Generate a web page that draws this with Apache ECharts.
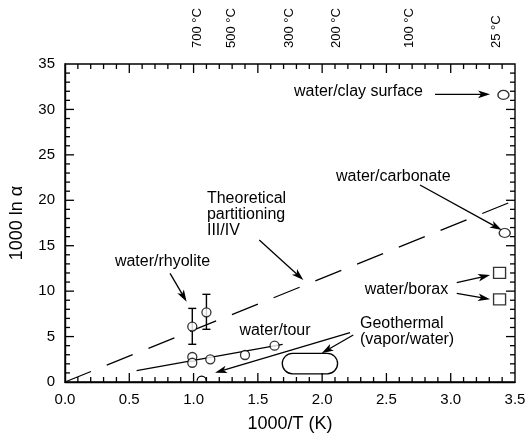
<!DOCTYPE html>
<html><head><meta charset="utf-8">
<script src="https://cdn.jsdelivr.net/npm/echarts@6/dist/echarts.min.js"></script>
<style>html,body{margin:0;padding:0;background:#fff}#c{width:529px;height:438px}</style>
</head><body><div id="c"></div>
<script>
// ---- data ----
const theoryLine = [[0, 0], [3.5, 20]];
const tourPoints = [[0.99, 2.75], [0.99, 2.12], [1.13, 2.5], [1.40, 2.97], [1.63, 4.0]];
const tourFit = [[0.557, 1.24], [1.693, 4.15]];
const rhyolitePoints = [[0.99, 6.1], [1.10, 7.67]];
const rhyoliteErrLow = [4.15, 5.8];
const rhyoliteErrHigh = [8.1, 9.65];
const clayPoint = [[3.41, 31.6]];
const carbonatePoint = [[3.42, 16.4]];
const boraxPoints = [[3.38, 12.0], [3.38, 9.1]];
const lonePoint = [[1.063, 0.15]];
const geothermalBox = [[1.69, 0.9, 2.12, 3.15]];
const topTempsC = [700, 500, 300, 200, 100, 25];

// ---- annotations (data coordinates) ----
const labels = [
  { text: 'water/clay surface', x: 2.784, y: 31.95, align: 'right' },
  { text: 'water/carbonate', x: 3.0, y: 22.6, align: 'right' },
  { text: 'Theoretical\npartitioning\nIII/IV', x: 1.104, y: 18.38, align: 'left' },
  { text: 'water/rhyolite', x: 0.758, y: 13.24, align: 'center' },
  { text: 'water/borax', x: 2.981, y: 10.13, align: 'right' },
  { text: 'Geothermal\n(vapor/water)', x: 2.294, y: 5.56, align: 'left' },
  { text: 'water/tour', x: 1.633, y: 5.65, align: 'center' }
];
const arrows = [
  [2.878, 31.66, 3.306, 31.66],
  [2.761, 21.68, 3.397, 16.73],
  [1.511, 15.63, 1.854, 11.23],
  [0.817, 11.96, 0.946, 8.84],
  [3.047, 10.93, 3.306, 11.77],
  [3.047, 9.76, 3.306, 9.10],
  [2.217, 5.43, 1.167, 1.02],
  [2.242, 5.17, 1.996, 3.16]
];

const X_MIN = 0, X_MAX = 3.5, Y_MIN = 0, Y_MAX = 35;
const FONT = '"Liberation Sans", Arial, Helvetica, sans-serif';
const topTempPos = topTempsC.map(t => 1000 / (t + 273.15));

const chart = echarts.init(document.getElementById('c'));

function arrowItem(params, api) {
  const p1 = api.coord([api.value(0), api.value(1)]);
  const p2 = api.coord([api.value(2), api.value(3)]);
  const dx = p2[0] - p1[0], dy = p2[1] - p1[1];
  const L = Math.hypot(dx, dy), ux = dx / L, uy = dy / L, nx = -uy, ny = ux;
  const hl = 12, hw = 3.8, notch = 9;
  const base = [p2[0] - ux * hl, p2[1] - uy * hl];
  const pts = [p2, [base[0] + nx * hw, base[1] + ny * hw], [p2[0] - ux * notch, p2[1] - uy * notch], [base[0] - nx * hw, base[1] - ny * hw]];
  return { type: 'group', children: [
    { type: 'line', shape: { x1: p1[0], y1: p1[1], x2: p2[0] - ux * notch, y2: p2[1] - uy * notch }, style: { stroke: '#000', lineWidth: 1.3 } },
    { type: 'polygon', shape: { points: pts }, style: { fill: '#000' } }
  ] };
}

const option = {
  animation: false,
  grid: { left: 65, right: 14, top: 64, bottom: 56, containLabel: false, show: true, borderColor: '#000', borderWidth: 1.4, backgroundColor: 'transparent' },
  xAxis: {
    type: 'value', min: X_MIN, max: X_MAX, interval: 0.5,
    axisLine: { show: true, onZero: false, lineStyle: { color: '#000', width: 1.4 } },
    axisTick: { show: false }, splitLine: { show: false },
    axisLabel: { color: '#000', fontSize: 15, fontFamily: FONT, margin: 10, formatter: v => v.toFixed(1) },
    name: '1000/T (K)', nameLocation: 'middle', nameGap: 33,
    nameTextStyle: { color: '#000', fontSize: 18, fontFamily: FONT }
  },
  yAxis: {
    type: 'value', min: Y_MIN, max: Y_MAX, interval: 5,
    axisLine: { show: true, onZero: false, lineStyle: { color: '#000', width: 1.4 } },
    axisTick: { show: false }, splitLine: { show: false },
    axisLabel: { color: '#000', fontSize: 15, fontFamily: FONT, margin: 10 },
    name: '1000 ln α', nameLocation: 'middle', nameGap: 39, nameRotate: 90,
    nameTextStyle: { color: '#000', fontSize: 18, fontFamily: FONT }
  },
  series: [
    { type: 'line', data: theoryLine, symbol: 'none', lineStyle: { color: '#000', width: 1.3, type: [28, 17] }, z: 2 },
    { type: 'line', data: tourFit, symbol: 'none', lineStyle: { color: '#000', width: 1.3 }, z: 2 },
    {
      type: 'custom', coordinateSystem: 'cartesian2d', z: 3,
      data: rhyolitePoints.map((p, i) => [p[0], p[1], rhyoliteErrLow[i], rhyoliteErrHigh[i]]),
      renderItem: (params, api) => {
        const lo = api.coord([api.value(0), api.value(2)]);
        const hi = api.coord([api.value(0), api.value(3)]);
        const w = 4;
        const st = { stroke: '#000', lineWidth: 1.4 };
        return { type: 'group', children: [
          { type: 'line', shape: { x1: lo[0], y1: lo[1], x2: hi[0], y2: hi[1] }, style: st },
          { type: 'line', shape: { x1: lo[0] - w, y1: lo[1], x2: lo[0] + w, y2: lo[1] }, style: st },
          { type: 'line', shape: { x1: hi[0] - w, y1: hi[1], x2: hi[0] + w, y2: hi[1] }, style: st }
        ] };
      }
    },
    {
      type: 'scatter', data: rhyolitePoints.concat(tourPoints), symbol: 'circle', symbolSize: 9, z: 4,
      itemStyle: { color: '#fff', borderColor: '#000', borderWidth: 1.3 }
    },
    {
      type: 'scatter', data: clayPoint.concat(carbonatePoint), symbol: 'circle', symbolSize: [11, 9], z: 4,
      itemStyle: { color: '#fff', borderColor: '#000', borderWidth: 1.3 }
    },
    {
      type: 'scatter', data: boraxPoints, symbol: 'rect', symbolSize: [12, 11], z: 4,
      itemStyle: { color: '#fff', borderColor: '#000', borderWidth: 1.3 }
    },
    {
      type: 'custom', coordinateSystem: 'cartesian2d', z: 4, data: lonePoint,
      renderItem: (params, api) => {
        const c = api.coord([api.value(0), api.value(1)]);
        return { type: 'arc', shape: { cx: c[0], cy: c[1], r: 4.5, startAngle: Math.PI, endAngle: 2 * Math.PI }, style: { stroke: '#000', fill: null, lineWidth: 1.3 } };
      }
    },
    {
      type: 'custom', coordinateSystem: 'cartesian2d', z: 4, data: geothermalBox,
      renderItem: (params, api) => {
        const a = api.coord([api.value(0), api.value(3)]);
        const b = api.coord([api.value(2), api.value(1)]);
        const h = b[1] - a[1];
        return { type: 'rect', shape: { x: a[0], y: a[1], width: b[0] - a[0], height: h, r: h / 2 }, style: { stroke: '#000', fill: '#fff', lineWidth: 1.3 } };
      }
    },
    {
      type: 'custom', coordinateSystem: 'cartesian2d', z: 5, data: arrows, renderItem: arrowItem
    },
    {
      type: 'custom', coordinateSystem: 'cartesian2d', z: 5,
      data: labels.map((l, i) => [l.x, l.y, i]),
      renderItem: (params, api) => {
        const l = labels[api.value(2)];
        const p = api.coord([api.value(0), api.value(1)]);
        return { type: 'text', x: p[0], y: p[1], style: {
          text: l.text, fill: '#000', fontSize: 16, fontFamily: FONT,
          align: l.align, verticalAlign: 'middle', lineHeight: 16
        } };
      }
    },
    {
      // temperature labels above the top edge of the frame
      type: 'custom', coordinateSystem: 'cartesian2d', z: 5, clip: false,
      data: topTempPos.map((x, i) => [x, Y_MAX, topTempsC[i]]),
      renderItem: (params, api) => {
        const p = api.coord([api.value(0), api.value(1)]);
        return { type: 'text', x: p[0], y: p[1] - 16, rotation: Math.PI / 2, style: {
          text: api.value(2) + ' °C', fill: '#000', fontSize: 13, fontFamily: FONT,
          align: 'left', verticalAlign: 'middle'
        } };
      }
    }
  ]
};
chart.setOption(option);

// inward frame ticks, positioned through the axes' scales
const tickEls = [];
function addTick(x, y, dx, dy, len) {
  const p = chart.convertToPixel({ xAxisIndex: 0, yAxisIndex: 0 }, [x, y]);
  tickEls.push({
    type: 'line', z: 50,
    shape: { x1: p[0], y1: p[1], x2: p[0] + dx * len, y2: p[1] + dy * len },
    style: { stroke: '#000', lineWidth: 1.3 }
  });
}
for (let k = 1; k < 35; k++) {
  const len = k % 5 === 0 ? 9 : 5;
  addTick(k / 10, Y_MIN, 0, -1, len);
  addTick(k / 10, Y_MAX, 0, 1, len);
  addTick(X_MIN, k, 1, 0, len);
  addTick(X_MAX, k, -1, 0, len);
}
chart.setOption({ graphic: { elements: tickEls } });
</script>
</body></html>
